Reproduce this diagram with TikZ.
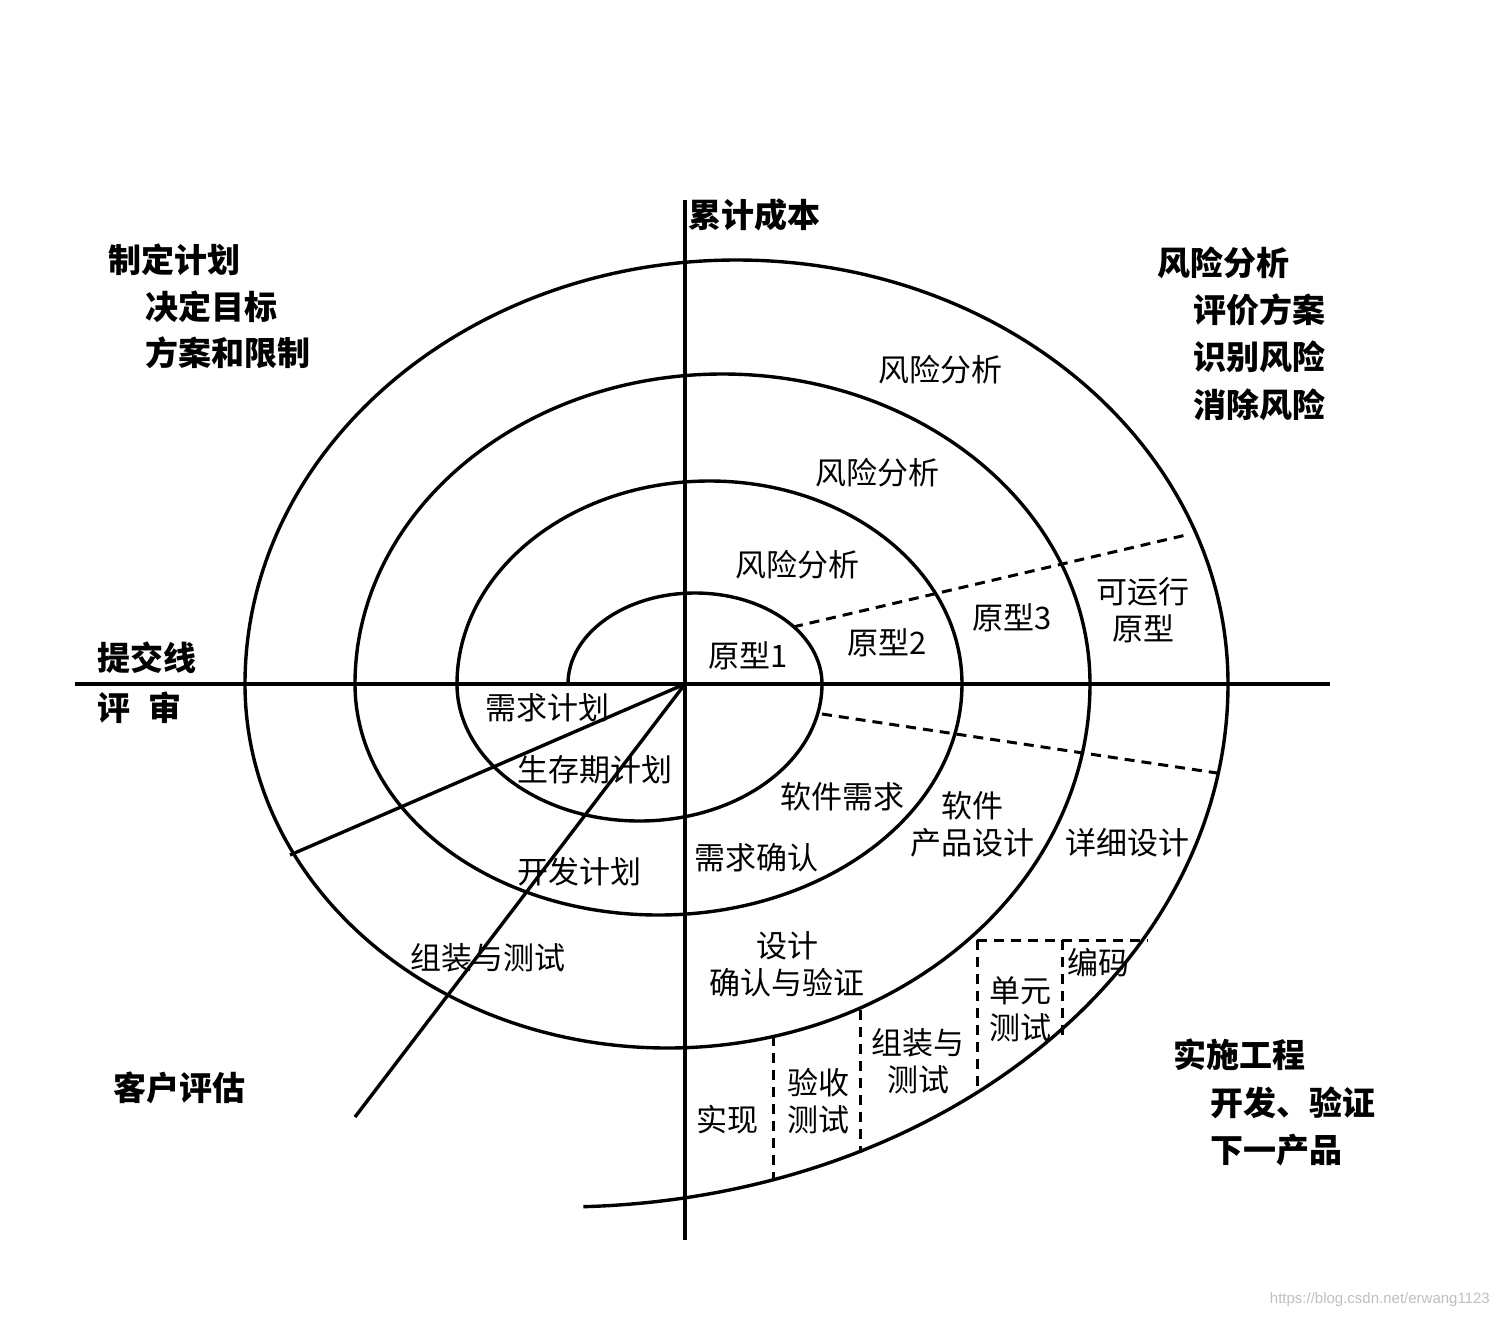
\documentclass[tikz,border=0pt]{standalone}
\usepackage{fontspec}
\setmainfont{Noto Sans CJK SC}
\newfontfamily\wmfont{Liberation Sans}
\begin{document}
\begin{tikzpicture}[x=1pt,y=-1pt,
  axis/.style={line width=3.4pt,black},
  spiral/.style={line width=3.4pt,black},
  radial/.style={line width=3.4pt,black},
  dashline/.style={line width=3pt,black,dash pattern=on 10pt off 7pt},
  lab/.style={inner sep=0pt,font=\fontsize{31}{37}\selectfont,align=center},
  hd/.style={inner sep=0pt,anchor=west,font=\bfseries\fontsize{33}{38}\selectfont},
  wm/.style={inner sep=0pt,anchor=east,text=black!25,font=\wmfont\fontsize{15}{18}\selectfont}]
\useasboundingbox (0,0) rectangle (1500,1318);
% axes
\coordinate (O) at (685,684);
\coordinate (axL) at (75,684);
\coordinate (axR) at (1330,684);
\coordinate (axT) at (685,200);
\coordinate (axB) at (685,1240);
\draw[axis] (axL) -- (axR);
\draw[axis] (axT) -- (axB);
% spiral
\coordinate (sp0) at (568,684);
\draw[spiral] (sp0)
  arc[start angle=180,end angle=360,x radius=127,y radius=91]
  arc[start angle=0,end angle=180,x radius=182.5,y radius=137]
  arc[start angle=180,end angle=360,x radius=252.5,y radius=203]
  arc[start angle=0,end angle=180,x radius=303.5,y radius=231]
  arc[start angle=180,end angle=360,x radius=367.5,y radius=310]
  arc[start angle=0,end angle=180,x radius=422.5,y radius=364]
  arc[start angle=180,end angle=360,x radius=491.5,y radius=424]
  arc[start angle=0,end angle=88,x radius=668,y radius=523];
% radial lines
\coordinate (r1) at (290,855);
\coordinate (r2) at (355,1117);
\draw[radial] (O) -- (r1);
\draw[radial] (O) -- (r2);
% dashed separators
\coordinate (du1) at (793,627);
\coordinate (du2) at (1186,535);
\coordinate (dl1) at (822,714);
\coordinate (dl2) at (1217,773);
\draw[dashline] (du1) -- (du2);
\draw[dashline] (dl1) -- (dl2);
\coordinate (bx1) at (977,940);
\coordinate (bx2) at (1148,940);
\coordinate (bx3) at (977,1093);
\coordinate (bx4) at (1062,940);
\coordinate (bx5) at (1062,1035);
\coordinate (bx6) at (860,1010);
\coordinate (bx7) at (860,1153);
\coordinate (bx8) at (773,1036);
\coordinate (bx9) at (773,1180);
\draw[dashline] (bx1) -- (bx2);
\draw[dashline] (bx1) -- (bx3);
\draw[dashline] (bx4) -- (bx5);
\draw[dashline] (bx6) -- (bx7);
\draw[dashline] (bx8) -- (bx9);
% corner labels
\node[hd] (cost) at (688,215) {累计成本};
\node[hd] (p1) at (108,260) {制定计划};
\node[hd] (p2) at (145,307) {决定目标};
\node[hd] (p3) at (145,353) {方案和限制};
\node[hd] (q1) at (1157,263) {风险分析};
\node[hd] (q2) at (1193,310) {评价方案};
\node[hd] (q3) at (1193,357) {识别风险};
\node[hd] (q4) at (1193,405) {消除风险};
\node[hd] (sub) at (97,658) {提交线};
\node[hd] (rev) at (97,708) {评\hspace{18pt}审};
\node[hd] (cust) at (113,1088) {客户评估};
\node[hd] (e1) at (1173,1055) {实施工程};
\node[hd] (e2) at (1210,1103) {开发、验证};
\node[hd] (e3) at (1210,1150) {下一产品};
% inner labels
\node[lab] (ra3) at (940,370) {风险分析};
\node[lab] (ra2) at (877,473) {风险分析};
\node[lab] (ra1) at (797,565) {风险分析};
\node[lab] (pt1) at (748,656) {原型1};
\node[lab] (pt2) at (887,643) {原型2};
\node[lab] (pt3) at (1012,618) {原型3};
\node[lab] (pt4) at (1143,610) {可运行\\原型};
\node[lab] (rq) at (547,708) {需求计划};
\node[lab] (lc) at (595,770) {生存期计划};
\node[lab] (dv) at (579,872) {开发计划};
\node[lab] (it) at (488,958) {组装与测试};
\node[lab] (sr) at (842,797) {软件需求};
\node[lab] (pd) at (972,824) {软件\\产品设计};
\node[lab] (dd) at (1127,843) {详细设计};
\node[lab] (rc) at (756,858) {需求确认};
\node[lab] (dvv) at (787,964) {设计\\确认与验证};
\node[lab] (cd) at (1098,963) {编码};
\node[lab] (ut) at (1020,1009) {单元\\测试};
\node[lab] (at) at (918,1061) {组装与\\测试};
\node[lab] (ac) at (818,1101) {验收\\测试};
\node[lab] (im) at (727,1120) {实现};
\node[wm] (url) at (1490,1300) {https://blog.csdn.net/erwang1123};
\end{tikzpicture}
\end{document}
